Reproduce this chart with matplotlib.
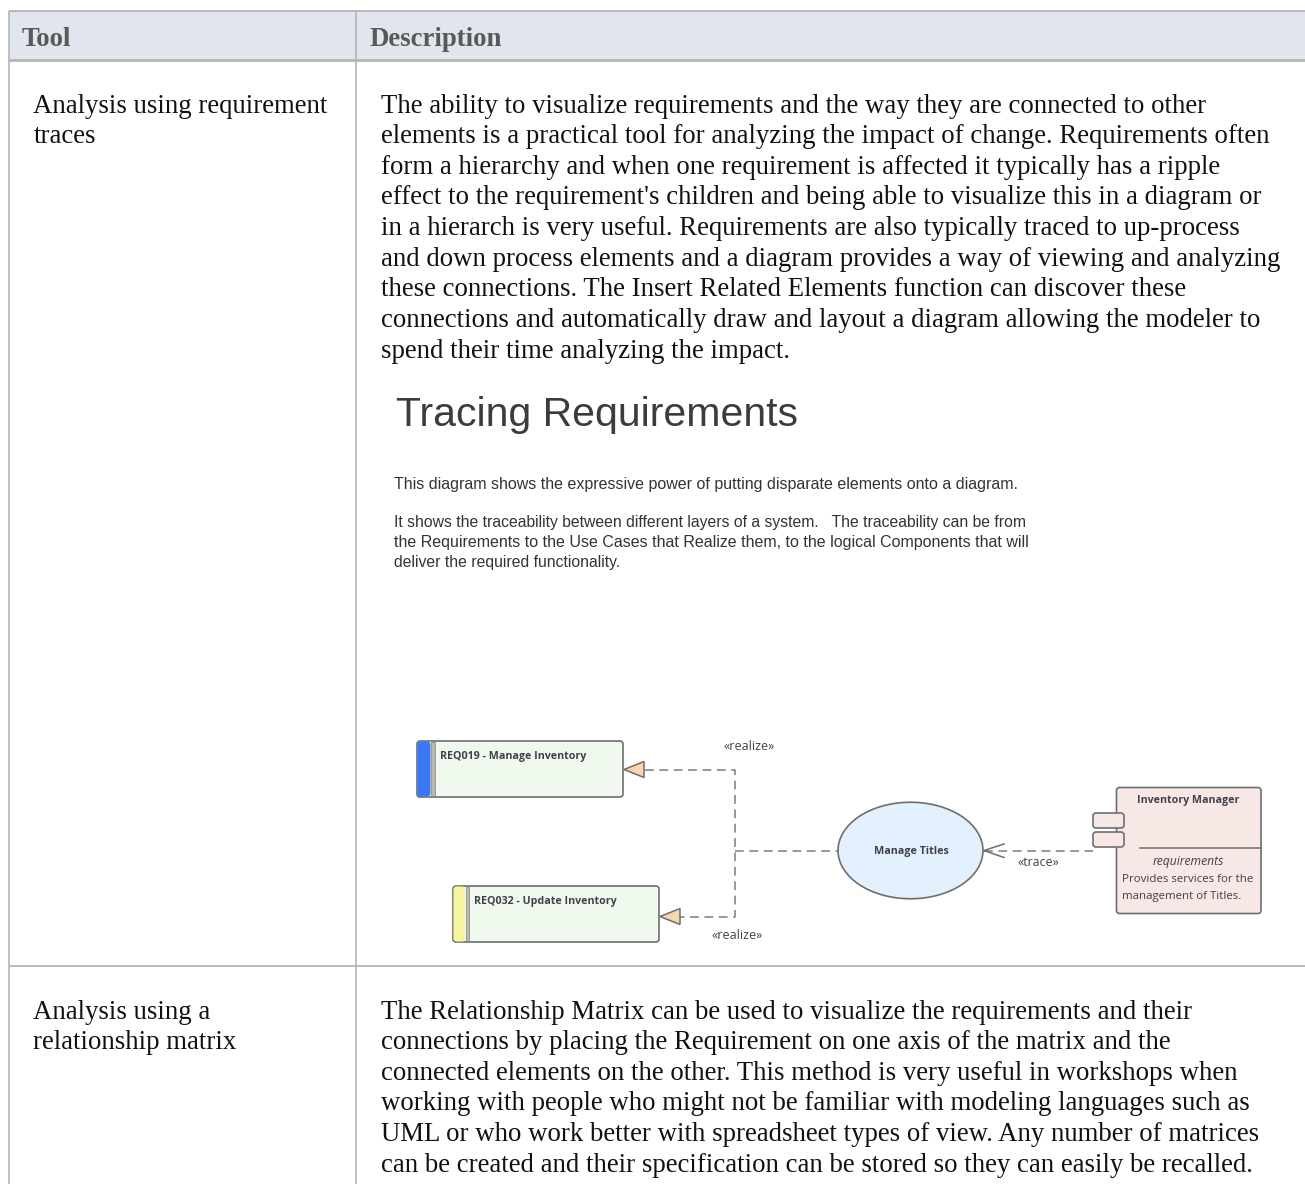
import matplotlib
matplotlib.use("Agg")
import matplotlib.pyplot as plt
from matplotlib.patches import FancyBboxPatch, Ellipse, Polygon, Rectangle

headers = ["Tool", "Description"]
row_titles = [["Analysis using requirement", "traces"],
              ["Analysis using a", "relationship matrix"]]
desc_1 = ["The ability to visualize requirements and the way they are connected to other",
          "elements is a practical tool for analyzing the impact of change. Requirements often",
          "form a hierarchy and when one requirement is affected it typically has a ripple",
          "effect to the requirement's children and being able to visualize this in a diagram or",
          "in a hierarch is very useful. Requirements are also typically traced to up-process",
          "and down process elements and a diagram provides a way of viewing and analyzing",
          "these connections. The Insert Related Elements function can discover these",
          "connections and automatically draw and layout a diagram allowing the modeler to",
          "spend their time analyzing the impact."]
desc_2 = ["The Relationship Matrix can be used to visualize the requirements and their",
          "connections by placing the Requirement on one axis of the matrix and the",
          "connected elements on the other. This method is very useful in workshops when",
          "working with people who might not be familiar with modeling languages such as",
          "UML or who work better with spreadsheet types of view. Any number of matrices",
          "can be created and their specification can be stored so they can easily be recalled."]
diagram_title = "Tracing Requirements"
diagram_notes = ["This diagram shows the expressive power of putting disparate elements onto a diagram.",
                 "It shows the traceability between different layers of a system.   The traceability can be from",
                 "the Requirements to the Use Cases that Realize them, to the logical Components that will",
                 "deliver the required functionality."]
req_names = ["REQ019 - Manage Inventory", "REQ032 - Update Inventory"]
req_colors = ["#3c78f5", "#f7f3a0"]
use_case = "Manage Titles"
component = "Inventory Manager"
component_notes = ["Provides services for the", "management of Titles."]

W, H = 1305, 1184
fig = plt.figure(figsize=(W/100, H/100), dpi=100)
ax = fig.add_axes([0, 0, 1, 1])
ax.set_xlim(0, W); ax.set_ylim(H, 0); ax.axis("off")

SERIF = "Liberation Serif"
SANS = "Open Sans"
GRID = "#b4b4b4"
EDGE = "#6e6e6e"
TXT = "#404048"

# table frame
ax.add_patch(Rectangle((9, 11), W-9, 48, fc="#e1e5ed", ec="none", zorder=0))
ax.plot([9, W], [10.5, 10.5], color=GRID, lw=1.3, solid_capstyle="butt")
ax.plot([9, W], [59.5, 59.5], color=GRID, lw=2.0, solid_capstyle="butt")
ax.plot([9, W], [966, 966], color=GRID, lw=1.3, solid_capstyle="butt")
ax.plot([9, 9], [10.5, H], color=GRID, lw=1.2, solid_capstyle="butt")
ax.plot([356, 356], [10.5, H], color=GRID, lw=1.2, solid_capstyle="butt")

ax.text(22, 46.5, headers[0], family=SERIF, weight="bold", size=19.3, color="#595959")
ax.text(370, 46.5, headers[1], family=SERIF, weight="bold", size=19.3, color="#595959")

STEP = 30.6
def lines(x, y0, items, size=19.25):
    for i, t in enumerate(items):
        ax.text(x, y0 + i*STEP, t, family=SERIF, size=size, color="#111111")

lines(33.3, 112.7, row_titles[0])
lines(33.3, 1018.7, row_titles[1])
lines(381, 112.7, desc_1)
lines(381, 1018.7, desc_2)

# diagram heading
ax.text(396, 425.5, diagram_title, family="Liberation Sans", size=29.55, color="#3c3c3c")
for y, t, s in zip([488.5, 527.5, 547.5, 567], diagram_notes, [11.57, 11.35, 11.5, 11.35]):
    ax.text(394, y, t, family="Liberation Sans", size=s, color="#333333")

def round_box(x0, y0, x1, y1, fc, r=3, z=2):
    ax.add_patch(FancyBboxPatch((x0+r, y0+r), x1-x0-2*r, y1-y0-2*r,
                                boxstyle=f"round,pad={r},rounding_size={r}",
                                fc=fc, ec=EDGE, lw=1.2, zorder=z))

def requirement(x0, y0, x1, y1, name, color, xt, sw):
    round_box(x0, y0, x1, y1, "#f0f9ee")
    ax.add_patch(FancyBboxPatch((x0+3, y0+3), sw-6, y1-y0-6, boxstyle="round,pad=2.5,rounding_size=3",
                                fc=color, ec="none", zorder=3))
    ax.add_patch(Rectangle((x0+sw, y0+1), 3.5, y1-y0-2, fc="#b9b9b0", ec=EDGE, lw=0.4, zorder=3))
    ax.text(xt, y0+18, name, family=SANS, weight="bold", size=7.65, color=TXT, zorder=4)

requirement(417, 741, 623, 797, req_names[0], req_colors[0], 439.5, 14)
requirement(453, 886, 659, 942, req_names[1], req_colors[1], 474, 12.5)

# realize connectors
dash = dict(color="#808080", lw=1.15, ls=(0, (5.5, 3.5)), zorder=1)
ax.plot([645, 734.5, 734.5, 680], [769.5, 769.5, 916.5, 916.5], **dash)
ax.plot([734.5, 838], [850.5, 850.5], **dash)
ax.plot([984, 1093], [850.5, 850.5], **dash)
for tip, yc in [(624, 769.5), (660, 916.5)]:
    ax.add_patch(Polygon([(tip, yc), (tip+20, yc-8), (tip+20, yc+8)], closed=True,
                         fc="#f7d6ad", ec=EDGE, lw=1.1, zorder=3))
ax.plot([1004, 984, 1004], [844, 850.5, 857.5], color=EDGE, lw=1.1, zorder=3)

ax.text(723.5, 750, "«realize»", family=SANS, size=9, color=TXT)
ax.text(711.5, 939, "«realize»", family=SANS, size=9, color=TXT)
ax.text(1018, 866, "«trace»", family=SANS, size=8.9, color=TXT)

# use case
ax.add_patch(Ellipse((910.5, 850.5), 145, 96.5, fc="#e3f0fd", ec=EDGE, lw=1.2, zorder=2))
ax.text(911, 851.5, use_case, family=SANS, weight="bold", size=7.75, color=TXT, ha="center", va="center", zorder=3)

# component
round_box(1116.5, 787.5, 1261, 913.5, "#f7e8e6")
round_box(1093, 813, 1124, 828, "#f7e8e6", z=3)
round_box(1093, 832, 1124, 847, "#f7e8e6", z=3)
ax.plot([1140, 1261], [847.5, 847.5], color=EDGE, lw=1.1, zorder=3)
ax.text(1188, 800, component, family=SANS, weight="bold", size=7.65, color=TXT, ha="center", va="center", zorder=4)
ax.text(1188, 861.5, "requirements", family=SANS, style="italic", size=8.7, color=TXT, ha="center", va="center", zorder=4)
for y, t in zip([882, 899], component_notes):
    ax.text(1122, y, t, family=SANS, size=8.25, color=TXT, zorder=4)

fig.savefig("out.png", dpi=100)
